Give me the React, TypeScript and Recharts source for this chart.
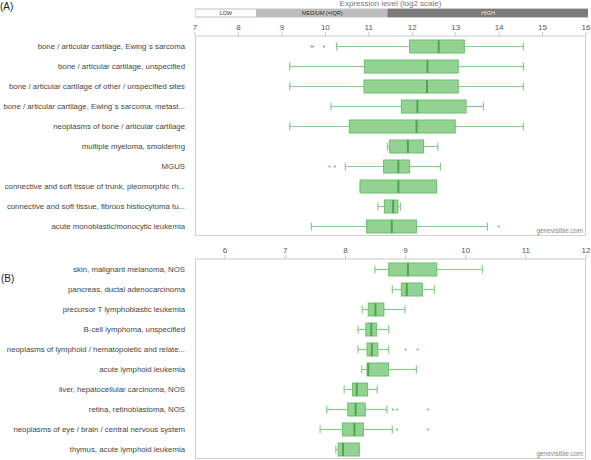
import { ComposedChart, BarChart, Bar, XAxis, YAxis, LabelList } from 'recharts'

// Panel A: highest expression
const categoriesA = [
  'bone / articular cartilage, Ewing´s sarcoma',
  'bone / articular cartilage, unspecified',
  'bone / articular cartilage of other / unspecified sites',
  'bone / articular cartilage, Ewing´s sarcoma, metast...',
  'neoplasms of bone / articular cartilage',
  'multiple myeloma, smoldering',
  'MGUS',
  'connective and soft tissue of trunk, pleomorphic rh...',
  'connective and soft tissue, fibrous histiocytoma tu...',
  'acute monoblastic/monocytic leukemia',
]
const lowA = [10.26, 9.18, 9.18, 10.13, 9.18, 11.43, 10.46, 10.8, 11.21, 9.68]
const q1A = [11.94, 10.9, 10.89, 11.75, 10.55, 11.48, 11.34, 10.8, 11.36, 10.95]
const medA = [12.61, 12.35, 12.34, 12.12, 12.1, 11.9, 11.68, 11.68, 11.56, 11.53]
const q3A = [13.2, 13.06, 13.06, 13.24, 12.99, 12.26, 11.94, 12.56, 11.67, 12.1]
const highA = [14.56, 14.56, 14.56, 13.64, 14.56, 12.59, 12.65, 12.56, 11.73, 13.73]
const outliersA = [[9.68, 9.72, 9.97], [], [], [], [], [], [10.1, 10.22], [], [], [13.99]]
const ticksA = [7, 8, 9, 10, 11, 12, 13, 14, 15, 16]

// Panel B
const categoriesB = [
  'skin, malignant melanoma, NOS',
  'pancreas, ductal adenocarcinoma',
  'precursor T lymphoblastic leukemia',
  'B-cell lymphoma, unspecified',
  'neoplasms of lymphoid / hematopoietic and relate...',
  'acute lymphoid leukemia',
  'liver, hepatocellular carcinoma, NOS',
  'retina, retinoblastoma, NOS',
  'neoplasms of eye / brain / central nervous system',
  'thymus, acute lymphoid leukemia',
]
const lowB = [8.49, 8.78, 8.28, 8.21, 8.21, 8.27, 7.98, 7.69, 7.58, 7.84]
const q1B = [8.72, 8.93, 8.38, 8.34, 8.36, 8.36, 8.12, 8.04, 7.95, 7.88]
const medB = [9.04, 9.02, 8.5, 8.43, 8.44, 8.38, 8.19, 8.17, 8.15, 7.96]
const q3B = [9.52, 9.28, 8.64, 8.52, 8.54, 8.72, 8.37, 8.33, 8.3, 8.23]
const highB = [10.28, 9.48, 8.99, 8.72, 8.72, 9.18, 8.53, 8.69, 8.78, 8.23]
const outliersB = [[], [], [], [], [9.0, 9.2], [], [], [8.79, 8.86, 9.37], [8.86, 9.37], []]
const ticksB = [6, 7, 8, 9, 10, 11, 12]

// expression level bands (log2)
const bandNames = ['LOW', 'MEDIUM (=IQR)', 'HIGH']
const bandStarts = [7, 8.41, 11.42]
const bandEnds = [8.41, 11.42, 16]

const FONT = '"Liberation Sans", Arial, sans-serif'
const BOX_FILL = '#93d293'
const BOX_STROKE = '#6cbf6c'
const MEDIAN = '#4aa84a'
const WHISKER = '#88cc88'

const buildRows = (names: string[], low: number[], q1: number[], med: number[], q3: number[], high: number[], out: number[][]) =>
  names.map((name, i) => ({
    name,
    low: low[i],
    q1: q1[i],
    median: med[i],
    q3: q3[i],
    high: high[i],
    outliers: out[i],
  }))

const rowsA = buildRows(categoriesA, lowA, q1A, medA, q3A, highA, outliersA)
const rowsB = buildRows(categoriesB, lowB, q1B, medB, q3B, highB, outliersB)

// stacked band row: transparent base up to 7, then each level's width
const bandRow: any = { name: 'level', base: bandStarts[0] }
bandNames.forEach((n, i) => {
  bandRow[n] = bandEnds[i] - bandStarts[i]
})

// bar spans low..high, everything else is placed on the same linear scale
function BoxShape(props: any) {
  const { x, y, width, height, payload } = props
  const span = payload.high - payload.low
  const toX = (v: number) => x + ((v - payload.low) / span) * width
  const cy = y + height / 2
  const xl = toX(payload.low)
  const x1 = toX(payload.q1)
  const xm = toX(payload.median)
  const x3 = toX(payload.q3)
  const xh = toX(payload.high)
  return (
    <g>
      <line x1={xl} x2={x1} y1={cy} y2={cy} stroke={WHISKER} strokeWidth={1.2} />
      <line x1={x3} x2={xh} y1={cy} y2={cy} stroke={WHISKER} strokeWidth={1.2} />
      <line x1={xl} x2={xl} y1={cy - 4} y2={cy + 4} stroke={WHISKER} strokeWidth={1.2} />
      <line x1={xh} x2={xh} y1={cy - 4} y2={cy + 4} stroke={WHISKER} strokeWidth={1.2} />
      <rect x={x1} y={y} width={Math.max(x3 - x1, 0)} height={height} fill={BOX_FILL} stroke={BOX_STROKE} strokeWidth={1} />
      <line x1={xm} x2={xm} y1={y} y2={y + height} stroke={MEDIAN} strokeWidth={2} />
      {payload.outliers.map((o: number, i: number) => (
        <circle key={i} cx={toX(o)} cy={cy} r={1.1} fill={BOX_STROKE} />
      ))}
    </g>
  )
}

// single-line category label (no wrapping)
const CategoryTick = ({ x, y, payload }: any) => (
  <text x={x} y={y} dy={3} textAnchor="end" fontSize={7.8} fill="#444" fontFamily={FONT}>
    {payload.value}
  </text>
)

function BoxPanel({ rows, domain, ticks, top, height, axisHeight }: any) {
  return (
    <div style={{ position: 'absolute', left: 0, top, width: 591, height }}>
      <ComposedChart
        width={591}
        height={height}
        data={rows}
        layout="vertical"
        margin={{ top: 0, right: 5, bottom: height - axisHeight - 200, left: 0 }}
      >
        <XAxis
          type="number"
          orientation="top"
          domain={domain}
          ticks={ticks}
          allowDataOverflow
          height={axisHeight}
          tickSize={4}
          tickMargin={2}
          stroke="#c8c8c8"
          tick={{ fill: '#555', fontSize: 8, fontFamily: FONT }}
        />
        <YAxis
          type="category"
          dataKey="name"
          width={195}
          interval={0}
          axisLine={false}
          tickLine={false}
          tickSize={0}
          tickMargin={10}
          tick={<CategoryTick />}
        />
        <Bar
          dataKey={(d: any) => [d.low, d.high]}
          barSize={13}
          shape={BoxShape}
          isAnimationActive={false}
        />
      </ComposedChart>
      <div
        style={{
          position: 'absolute',
          left: 195,
          top: axisHeight,
          width: 391,
          height: 200,
          boxSizing: 'border-box',
          border: '1px solid #d0d0d0',
          borderTop: 'none',
          pointerEvents: 'none',
        }}
      />
      <div
        style={{
          position: 'absolute',
          right: 8,
          top: axisHeight + 191,
          fontSize: 6.5,
          color: '#888',
          fontFamily: FONT,
        }}
      >
        genevisible.com
      </div>
    </div>
  )
}

function LevelBands() {
  const bandFill = ['#ffffff', '#bdbdbd', '#7b7b7b']
  const bandText = ['#333', '#333', '#e8e8e8']
  return (
    <div style={{ position: 'absolute', left: 0, top: 0, width: 591, height: 20 }}>
      <BarChart
        width={591}
        height={20}
        data={[bandRow]}
        layout="vertical"
        barCategoryGap={0}
        margin={{ top: 9, right: 3, bottom: 3, left: 195 }}
      >
        <XAxis type="number" domain={[7, 16]} allowDataOverflow hide />
        <YAxis type="category" dataKey="name" hide />
        <Bar dataKey="base" stackId="lvl" fill="transparent" isAnimationActive={false} />
        {bandNames.map((n, i) => (
          <Bar
            key={n}
            dataKey={n}
            stackId="lvl"
            fill={bandFill[i]}
            stroke={i === 0 ? '#aaa' : bandFill[i]}
            strokeWidth={0.8}
            isAnimationActive={false}
          >
            <LabelList
              dataKey={n}
              position="center"
              formatter={() => n}
              fontSize={5.5}
              fill={bandText[i]}
              fontFamily={FONT}
            />
          </Bar>
        ))}
      </BarChart>
    </div>
  )
}

export default function App() {
  return (
    <div style={{ position: 'absolute', left: 0, top: 0, width: 591, height: 460, background: '#fff', fontFamily: FONT }}>
      <div style={{ position: 'absolute', left: 0, top: 1, fontSize: 10, color: '#222' }}>(A)</div>
      <div style={{ position: 'absolute', left: 195, width: 391, top: -1, textAlign: 'center', fontSize: 8, color: '#777' }}>
        Expression level (log2 scale)
      </div>
      <LevelBands />
      <BoxPanel rows={rowsA} domain={[7, 16]} ticks={ticksA} top={0} height={240} axisHeight={36} />
      <div style={{ position: 'absolute', left: 1, top: 273, fontSize: 10, color: '#222' }}>(B)</div>
      <BoxPanel rows={rowsB} domain={[5.5, 12]} ticks={ticksB} top={240} height={220} axisHeight={19} />
    </div>
  )
}
